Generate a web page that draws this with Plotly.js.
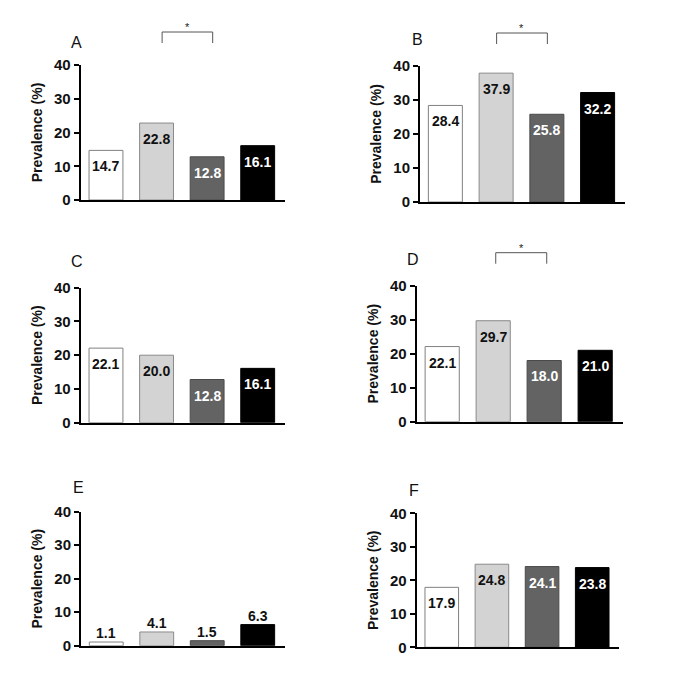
<!DOCTYPE html>
<html>
<head>
<meta charset="utf-8">
<script src="https://cdn.plot.ly/plotly-3.0.1.min.js"></script>
<style>html,body{margin:0;padding:0;background:#fff;}#chart{width:685px;height:692px;}</style>
</head>
<body>
<div id="chart"></div>
<script>
// ---- data ----
var categories = ['Group 1', 'Group 2', 'Group 3', 'Group 4'];
var panelLabels = ['A', 'B', 'C', 'D', 'E', 'F'];
var valuesA = [14.7, 22.8, 12.8, 16.1];
var valuesB = [28.4, 37.9, 25.8, 32.2];
var valuesC = [22.1, 20.0, 12.8, 16.1];
var valuesD = [22.1, 29.7, 18.0, 21.0];
var valuesE = [1.1, 4.1, 1.5, 6.3];
var valuesF = [17.9, 24.8, 24.1, 23.8];
var yTickVals = [0, 10, 20, 30, 40];
var yTickText = ['0', '10', '20', '30', '40'];
var yTitle = 'Prevalence (%)';
// significance brackets: [panel index, category i, category j]
var sigPairs = [[0, 1, 2], [1, 1, 2], [3, 1, 2]];

// ---- styling / layout ----
var W = 685, H = 692;
var allValues = [valuesA, valuesB, valuesC, valuesD, valuesE, valuesF];
// plot boxes in px: [left, right, top, bottom]
var boxes = [
  [80.7, 285, 65, 200],
  [420, 625, 66, 202],
  [80.7, 285, 287.7, 422.7],
  [416.7, 622.7, 285.7, 421.7],
  [81, 285, 511.7, 645.7],
  [416.7, 619.3, 513.3, 647.3]
];
var labelOffsets = [[-4, -22], [-3, -26], [-4, -26], [-4, -26], [-3, -24], [-3, -23]];
var bracketShift = [0.11, 0.01, 0, 0.05, 0, 0];
var xRange = [-0.5, 3.54];
var fills = ['#ffffff', '#d3d3d3', '#636363', '#000000'];
var lines = ['#808080', '#8a8a8a', '#4a4a4a', '#000000'];
var textColors = ['#111111', '#111111', '#ffffff', '#ffffff'];
var FONT = '"Liberation Sans", Arial, Helvetica, sans-serif';

var traces = [];
var layout = {
  width: W, height: H,
  margin: {l: 0, r: 0, t: 0, b: 0},
  paper_bgcolor: '#ffffff', plot_bgcolor: '#ffffff',
  showlegend: false,
  font: {family: FONT, color: '#111'},
  annotations: [], shapes: []
};

function px2x(p) { return p / W; }
function px2y(p) { return 1 - p / H; }
function catToPx(k, c) {
  var b = boxes[k];
  return b[0] + (c - xRange[0]) / (xRange[1] - xRange[0]) * (b[1] - b[0]);
}

for (var k = 0; k < 6; k++) {
  var n = k === 0 ? '' : String(k + 1);
  var b = boxes[k];
  var vals = allValues[k];
  traces.push({
    type: 'bar', x: categories, y: vals,
    xaxis: 'x' + n, yaxis: 'y' + n,
    width: 0.67,
    marker: {color: fills, line: {color: lines, width: 1}},
    hoverinfo: 'skip'
  });
  layout['xaxis' + n] = {
    domain: [px2x(b[0]), px2x(b[1])],
    anchor: 'y' + n, type: 'category', categoryarray: categories, categoryorder: 'array',
    range: xRange,
    showline: true, linecolor: '#000', linewidth: 2,
    showticklabels: false, ticks: '', showgrid: false, zeroline: false, fixedrange: true
  };
  layout['yaxis' + n] = {
    domain: [px2y(b[3]), px2y(b[2])],
    anchor: 'x' + n, range: [0, 40],
    tickvals: yTickVals, ticktext: yTickText,
    ticks: 'outside', ticklen: 5, tickwidth: 2, tickcolor: '#000',
    showline: true, linecolor: '#000', linewidth: 2,
    showgrid: false, zeroline: false, fixedrange: true,
    tickfont: {family: FONT, size: 15, weight: 'bold', color: '#111'},
    title: {text: yTitle, font: {family: FONT, size: 14, weight: 'bold', color: '#111'}}
  };
  // panel letter
  layout.annotations.push({
    xref: 'paper', yref: 'paper',
    x: px2x(b[0] + labelOffsets[k][0]), y: px2y(b[2] + labelOffsets[k][1]),
    xanchor: 'center', yanchor: 'middle', showarrow: false,
    text: panelLabels[k], font: {family: FONT, size: 16, color: '#111'}
  });
  // value labels
  for (var i = 0; i < vals.length; i++) {
    var outside = (k === 4);
    layout.annotations.push({
      xref: 'x' + n, yref: 'y' + n, x: categories[i], y: vals[i],
      yshift: outside ? 9 : -16,
      xanchor: 'center', yanchor: 'middle', showarrow: false,
      text: vals[i].toFixed(1),
      font: {family: FONT, size: 14, weight: 'bold', color: outside ? '#111' : textColors[i]}
    });
  }
}

// significance brackets
sigPairs.forEach(function (s) {
  var k = s[0], b = boxes[k];
  var x1 = px2x(catToPx(k, s[1] + bracketShift[k]));
  var x2 = px2x(catToPx(k, s[2] + bracketShift[k]));
  var yTop = px2y(b[2] - 33), yBot = px2y(b[2] - 22);
  layout.shapes.push({
    type: 'path', xref: 'paper', yref: 'paper',
    path: 'M' + x1 + ',' + yBot + ' L' + x1 + ',' + yTop + ' L' + x2 + ',' + yTop + ' L' + x2 + ',' + yBot,
    line: {color: '#555', width: 1}
  });
  layout.annotations.push({
    xref: 'paper', yref: 'paper', x: (x1 + x2) / 2, y: yTop,
    yshift: -3, xanchor: 'center', yanchor: 'bottom', showarrow: false,
    text: '*', font: {family: FONT, size: 11, color: '#222'}
  });
});

Plotly.newPlot('chart', traces, layout, {displayModeBar: false, staticPlot: true});
</script>
</body>
</html>
